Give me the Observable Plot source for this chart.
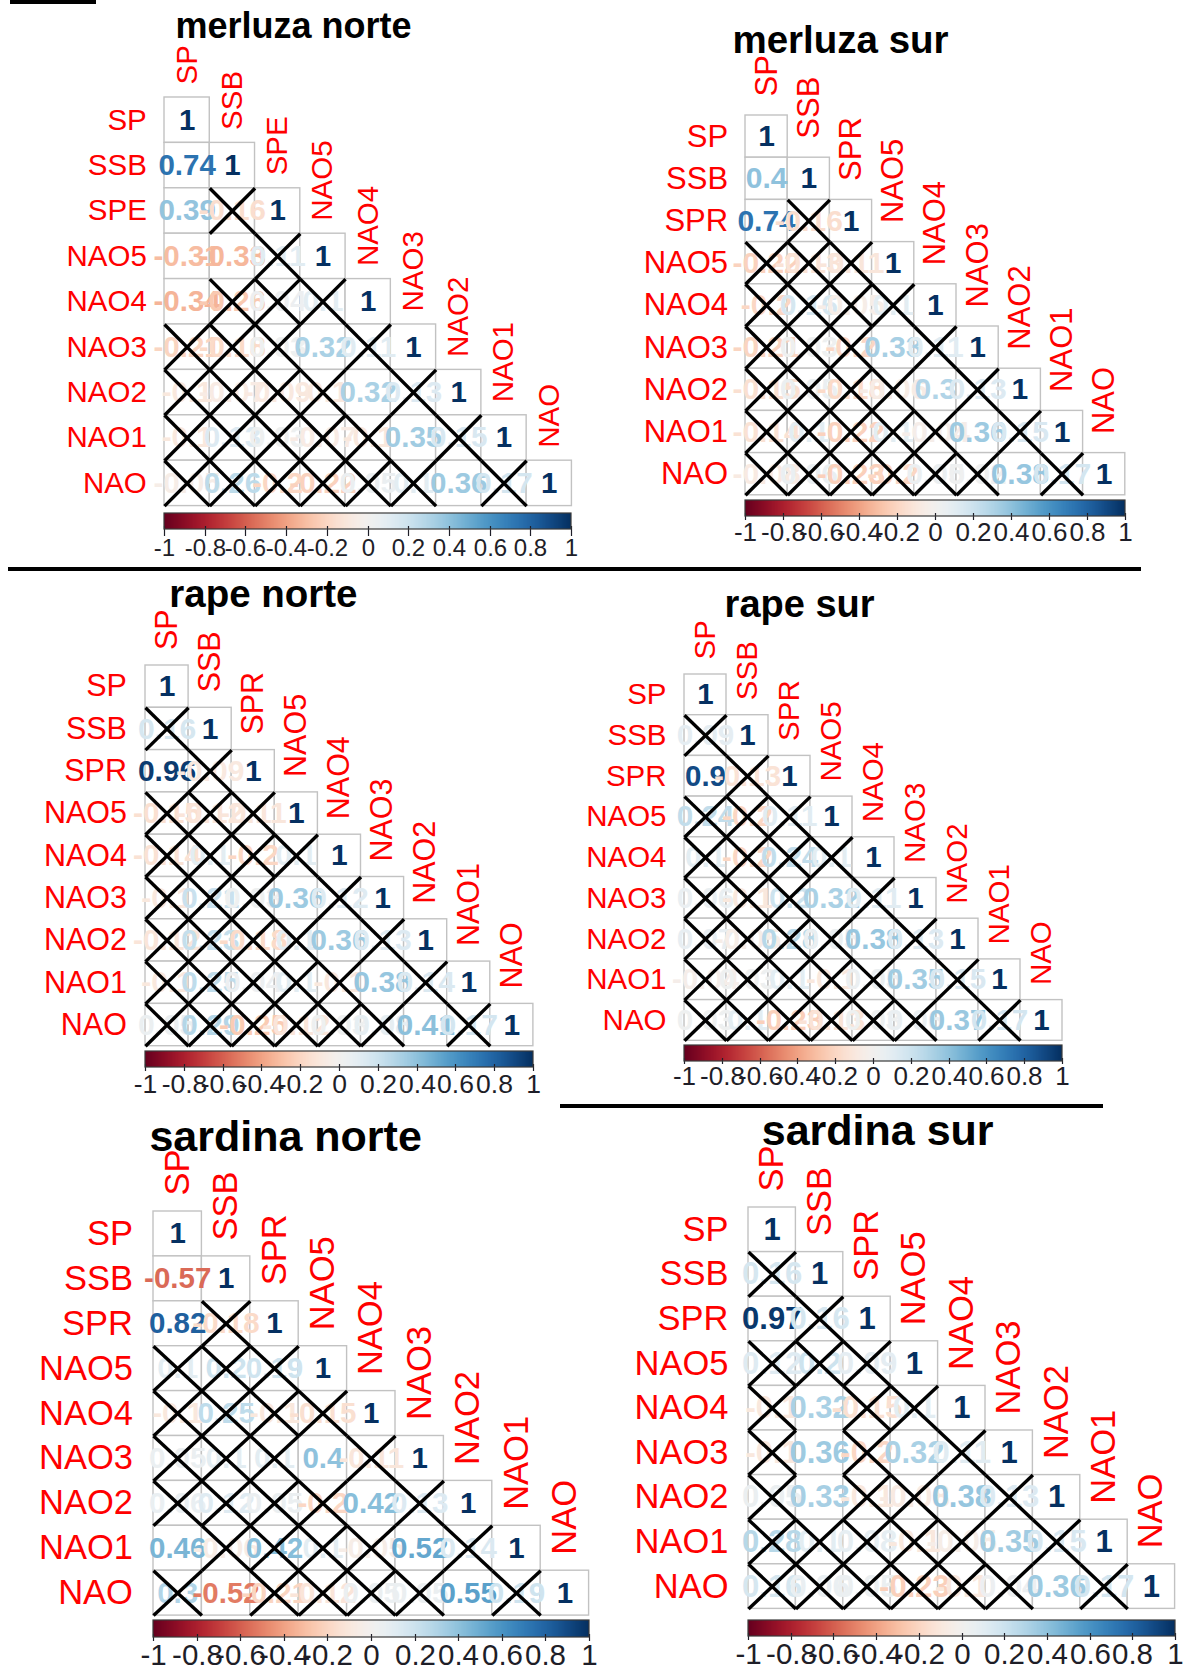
<!DOCTYPE html>
<html>
<head>
<meta charset="utf-8">
<script src="https://cdn.jsdelivr.net/npm/d3@7"></script>
<script src="https://cdn.jsdelivr.net/npm/@observablehq/plot@0.6"></script>
<style>
  html, body { margin: 0; padding: 0; background: #fff; overflow: hidden; }
  #page { position: relative; width: 1185px; height: 1680px; background: #fff; overflow: hidden; }
  .abs { position: absolute; }
  .title { position: absolute; text-align: center; font-weight: bold; color: #000; white-space: nowrap;
           font-family: 'Liberation Sans', Arial, Helvetica, sans-serif; }
  .sep { position: absolute; background: #000; }
</style>
</head>
<body>
<div id="page"></div>
<script>
// ---------------- DATA ----------------
const panelTitles = ["merluza norte", "merluza sur", "rape norte", "rape sur", "sardina norte", "sardina sur"];

const varsMerlNorte = ["SP", "SSB", "SPE", "NAO5", "NAO4", "NAO3", "NAO2", "NAO1", "NAO"];
const varsSPR = ["SP", "SSB", "SPR", "NAO5", "NAO4", "NAO3", "NAO2", "NAO1", "NAO"];

const legendTicks = [-1, -0.8, -0.6, -0.4, -0.2, 0, 0.2, 0.4, 0.6, 0.8, 1];

// lower-triangle correlations (row i, columns 0..i)
const merlNorteR = [
  [1],
  [0.74, 1],
  [0.39, -0.16, 1],
  [-0.31, -0.33, 0.11, 1],
  [-0.34, -0.26, 0.04, 0.1, 1],
  [-0.21, -0.18, 0.03, 0.32, 0.11, 1],
  [-0.1, -0.07, -0.09, -0.1, 0.32, 0.13, 1],
  [-0.1, 0.13, 0.03, -0.07, -0.1, 0.35, 0.15, 1],
  [-0.05, 0.26, -0.2, -0.22, 0.05, 0.1, 0.36, 0.17, 1]
];
// 1 = significant, 0 = crossed out
const merlNorteSig = [
  [1],
  [1, 1],
  [1, 0, 1],
  [1, 1, 0, 1],
  [1, 0, 0, 0, 1],
  [0, 0, 0, 1, 0, 1],
  [0, 0, 0, 0, 1, 0, 1],
  [0, 0, 0, 0, 0, 1, 0, 1],
  [0, 0, 0, 0, 0, 0, 1, 0, 1]
];

const merlSurR = [
  [1],
  [0.4, 1],
  [0.74, -0.16, 1],
  [-0.22, -0.13, -0.11, 1],
  [-0.2, 0.16, -0.05, 0.1, 1],
  [-0.21, 0.03, -0.2, 0.33, 0.11, 1],
  [-0.15, 0.05, -0.18, -0.06, 0.3, 0.13, 1],
  [-0.14, 0.1, -0.22, 0.1, -0.04, 0.36, 0.15, 1],
  [-0.08, 0.06, -0.23, -0.2, 0.05, 0.02, 0.38, 0.17, 1]
];
const merlSurSig = [
  [1],
  [1, 1],
  [1, 0, 1],
  [0, 0, 0, 1],
  [0, 0, 0, 0, 1],
  [0, 0, 0, 1, 0, 1],
  [0, 0, 0, 0, 1, 0, 1],
  [0, 0, 0, 0, 0, 1, 0, 1],
  [0, 0, 0, 0, 0, 0, 1, 0, 1]
];

const rapeNorteR = [
  [1],
  [0.16, 1],
  [0.96, -0.09, 1],
  [-0.15, -0.12, -0.11, 1],
  [-0.14, 0.1, -0.2, 0.1, 1],
  [-0.1, 0.21, 0.03, 0.36, 0.12, 1],
  [-0.12, 0.23, -0.18, 0.1, 0.36, 0.13, 1],
  [-0.1, 0.25, 0.04, 0.1, -0.1, 0.38, 0.14, 1],
  [0.05, 0.29, -0.25, -0.12, 0.03, 0.08, 0.41, 0.17, 1]
];
const rapeNorteSig = [
  [1],
  [0, 1],
  [1, 0, 1],
  [0, 0, 0, 1],
  [0, 0, 0, 0, 1],
  [0, 0, 0, 1, 0, 1],
  [0, 0, 0, 0, 1, 0, 1],
  [0, 0, 0, 0, 0, 1, 0, 1],
  [0, 0, 0, 0, 0, 0, 1, 0, 1]
];

const rapeSurR = [
  [1],
  [0.09, 1],
  [0.9, -0.13, 1],
  [0.24, -0.2, 0.11, 1],
  [0.1, -0.2, 0.24, 0.1, 1],
  [0.06, -0.1, 0.2, 0.32, 0.11, 1],
  [0.07, -0.05, 0.28, 0.05, 0.38, 0.13, 1],
  [-0.04, 0.03, 0.1, -0.1, 0.05, 0.35, 0.15, 1],
  [0.03, 0.1, -0.23, -0.13, 0.03, 0.06, 0.37, 0.17, 1]
];
const rapeSurSig = [
  [1],
  [0, 1],
  [1, 0, 1],
  [0, 0, 0, 1],
  [0, 0, 0, 0, 1],
  [0, 0, 0, 1, 0, 1],
  [0, 0, 0, 0, 1, 0, 1],
  [0, 0, 0, 0, 0, 1, 0, 1],
  [0, 0, 0, 0, 0, 0, 1, 0, 1]
];

const sardNorteR = [
  [1],
  [-0.57, 1],
  [0.82, -0.18, 1],
  [0.1, 0.2, 0.19, 1],
  [-0.1, 0.25, -0.1, -0.15, 1],
  [0.05, 0.1, 0.1, 0.4, -0.11, 1],
  [0.06, 0.12, 0.05, -0.2, 0.42, 0.13, 1],
  [0.46, -0.06, 0.42, 0.1, -0.05, 0.52, 0.14, 1],
  [0.3, -0.52, -0.21, -0.12, 0.05, 0.05, 0.55, 0.19, 1]
];
const sardNorteSig = [
  [1],
  [1, 1],
  [1, 0, 1],
  [0, 0, 0, 1],
  [0, 0, 0, 0, 1],
  [0, 0, 0, 1, 0, 1],
  [0, 0, 0, 0, 1, 0, 1],
  [1, 0, 0, 0, 0, 1, 0, 1],
  [0, 1, 0, 0, 0, 0, 1, 0, 1]
];

const sardSurR = [
  [1],
  [0.16, 1],
  [0.97, 0.16, 1],
  [0.12, 0.2, 0.09, 1],
  [-0.1, 0.32, -0.15, 0.1, 1],
  [-0.1, 0.36, -0.2, 0.32, 0.11, 1],
  [0.05, 0.33, -0.1, -0.08, 0.38, 0.13, 1],
  [0.28, 0.1, 0.08, -0.1, -0.05, 0.35, 0.15, 1],
  [0.16, 0.06, 0.05, -0.23, -0.1, 0.04, 0.36, 0.17, 1]
];
const sardSurSig = [
  [1],
  [0, 1],
  [1, 0, 1],
  [0, 0, 0, 1],
  [0, 1, 0, 0, 1],
  [0, 1, 0, 1, 0, 1],
  [0, 1, 0, 0, 1, 0, 1],
  [0, 0, 0, 0, 0, 1, 0, 1],
  [0, 0, 0, 0, 0, 0, 1, 0, 1]
];

// ---------------- LAYOUT (positions & styles only) ----------------
const FONT = "'Liberation Sans', Arial, Helvetica, sans-serif";
const layouts = [
  {left: 164.4, top: 97,    cw: 45.27, ch: 45.4, labelFont: 29.5, numFont: 29.5, labelGap: 17.7, colGap: 13,   titleX: 293.5, titleBase: 38,     titleFont: 36,   barTop: 513,    barH: 16,   tickFont: 24,   tickSize: 7},
  {left: 745.4, top: 115,   cw: 42.2,  ch: 42.2, labelFont: 31,   numFont: 30,   labelGap: 17.4, colGap: 19,   titleX: 840.5, titleBase: 54,     titleFont: 38.5, barTop: 500,    barH: 16,   tickFont: 26,   tickSize: 4},
  {left: 145.4, top: 664.5, cw: 43.1,  ch: 42.3, labelFont: 30.5, numFont: 30,   labelGap: 18.6, colGap: 15.5, titleX: 263.4, titleBase: 607.5,  titleFont: 38.5, barTop: 1051,   barH: 15.5, tickFont: 26.5, tickSize: 4},
  {left: 684.3, top: 673.7, cw: 42.0,  ch: 40.7, labelFont: 29.5, numFont: 29.5, labelGap: 18,   colGap: 15,   titleX: 799.6, titleBase: 617.5,  titleFont: 38,   barTop: 1045.3, barH: 15.7, tickFont: 26,   tickSize: 3},
  {left: 153,   top: 1210.6,cw: 48.4,  ch: 44.9, labelFont: 34.5, numFont: 29.5, labelGap: 20.6, colGap: 16,   titleX: 285.6, titleBase: 1151,   titleFont: 43,   barTop: 1620,   barH: 16.5, tickFont: 29.5, tickSize: 4},
  {left: 747.7, top: 1207,  cw: 47.4,  ch: 44.6, labelFont: 34.5, numFont: 31,   labelGap: 20,   colGap: 16,   titleX: 877.7, titleBase: 1145.3, titleFont: 43,   barTop: 1619.5, barH: 16,   tickFont: 29.5, tickSize: 4}
];

const panels = [
  {title: panelTitles[0], vars: varsMerlNorte, r: merlNorteR, sig: merlNorteSig, lay: layouts[0]},
  {title: panelTitles[1], vars: varsSPR, r: merlSurR, sig: merlSurSig, lay: layouts[1]},
  {title: panelTitles[2], vars: varsSPR, r: rapeNorteR, sig: rapeNorteSig, lay: layouts[2]},
  {title: panelTitles[3], vars: varsSPR, r: rapeSurR, sig: rapeSurSig, lay: layouts[3]},
  {title: panelTitles[4], vars: varsSPR, r: sardNorteR, sig: sardNorteSig, lay: layouts[4]},
  {title: panelTitles[5], vars: varsSPR, r: sardSurR, sig: sardSurSig, lay: layouts[5]}
];

const fmt = (v) => String(v);
const page = document.getElementById("page");

function place(el, left, top) {
  el.classList.add("abs");
  el.style.left = left + "px";
  el.style.top = top + "px";
  page.appendChild(el);
}

function makeMatrix(pn) {
  const p = pn.lay;
  const padL = 150, padT = 112, padR = 4, padB = 4;
  const W = 9 * p.cw + padL + padR, H = 9 * p.ch + padT + padB;
  const cells = [];
  pn.r.forEach((row, i) => row.forEach((v, j) => cells.push({i, j, v, sig: pn.sig[i][j]})));
  const crossed = cells.filter((d) => !d.sig);
  const labels = pn.vars.map((name, i) => ({name, i}));
  const svg = Plot.plot({
    width: W, height: H,
    marginLeft: 0, marginRight: 0, marginTop: 0, marginBottom: 0,
    x: {type: "linear", domain: [0, 9], range: [padL, padL + 9 * p.cw], axis: null},
    y: {type: "linear", domain: [0, 9], range: [padT, padT + 9 * p.ch], axis: null},
    color: {type: "linear", domain: [-1, 1], scheme: "RdBu"},
    style: {background: "transparent", overflow: "visible", fontFamily: FONT, maxWidth: "none"},
    marks: [
      Plot.rect(cells, {x1: "j", x2: (d) => d.j + 1, y1: "i", y2: (d) => d.i + 1,
        fill: "white", stroke: "#c2c2c2", strokeWidth: 1.4}),
      Plot.text(cells, {x: (d) => d.j + 0.5, y: (d) => d.i + 0.5, text: (d) => fmt(d.v),
        fill: "v", fontSize: p.numFont, fontWeight: "bold"}),
      Plot.link(crossed, {x1: "j", y1: "i", x2: (d) => d.j + 1, y2: (d) => d.i + 1,
        stroke: "black", strokeWidth: 3.4}),
      Plot.link(crossed, {x1: "j", y1: (d) => d.i + 1, x2: (d) => d.j + 1, y2: "i",
        stroke: "black", strokeWidth: 3.4}),
      Plot.text(labels, {x: () => 0, y: (d) => d.i + 0.5, text: "name", textAnchor: "end",
        dx: -p.labelGap, fill: "#ff0000", fontSize: p.labelFont}),
      Plot.text(labels, {x: (d) => d.i + 0.5, y: (d) => d.i, text: "name", rotate: -90,
        textAnchor: "start", dy: -p.colGap, fill: "#ff0000", fontSize: p.labelFont})
    ]
  });
  place(svg, p.left - padL, p.top - padT);
}

function makeLegend(pn) {
  const p = pn.lay;
  const mL = 30, mR = 30;
  const barW = Math.round(9 * p.cw);
  const mB = p.tickSize + 3 + Math.ceil(p.tickFont * 1.2);
  const el = Plot.legend({
    color: {type: "linear", domain: [-1, 1], scheme: "RdBu"},
    legend: "ramp",
    width: barW + mL + mR,
    height: Math.round(p.barH) + mB,
    marginTop: 0, marginBottom: mB, marginLeft: mL, marginRight: mR,
    ticks: legendTicks,
    tickFormat: fmt,
    tickSize: p.tickSize,
    label: null,
    style: {fontSize: p.tickFont + "px", fontFamily: FONT, color: "#1e1e28",
            background: "transparent", overflow: "visible", maxWidth: "none"}
  });
  el.querySelectorAll(".tick line").forEach((l) => {
    l.setAttribute("y1", -3);
    l.setAttribute("y2", p.tickSize);
    l.setAttribute("stroke-width", 1.2);
  });
  d3.select(el).append("rect")
    .attr("x", mL).attr("y", 0).attr("width", barW).attr("height", Math.round(p.barH))
    .attr("fill", "none").attr("stroke", "#3a3a3a").attr("stroke-width", 1.2);
  place(el, Math.round(p.left) - mL, p.barTop);
}

function makeTitle(pn) {
  const p = pn.lay;
  const d = document.createElement("div");
  d.className = "title";
  d.textContent = pn.title;
  d.style.fontSize = p.titleFont + "px";
  d.style.lineHeight = p.titleFont + "px";
  d.style.width = "600px";
  d.style.left = (p.titleX - 300) + "px";
  d.style.top = (p.titleBase - 0.8465 * p.titleFont) + "px";
  page.appendChild(d);
}

function sep(left, top, width, height) {
  const d = document.createElement("div");
  d.className = "sep";
  d.style.left = left + "px";
  d.style.top = top + "px";
  d.style.width = width + "px";
  d.style.height = height + "px";
  page.appendChild(d);
}

panels.forEach((pn) => {
  makeMatrix(pn);
  makeLegend(pn);
});
panels.forEach(makeTitle);

// separator bars
sep(10, 0, 86, 4);
sep(8, 567, 1133, 4);
sep(560, 1104, 543, 4);
</script>
</body>
</html>
